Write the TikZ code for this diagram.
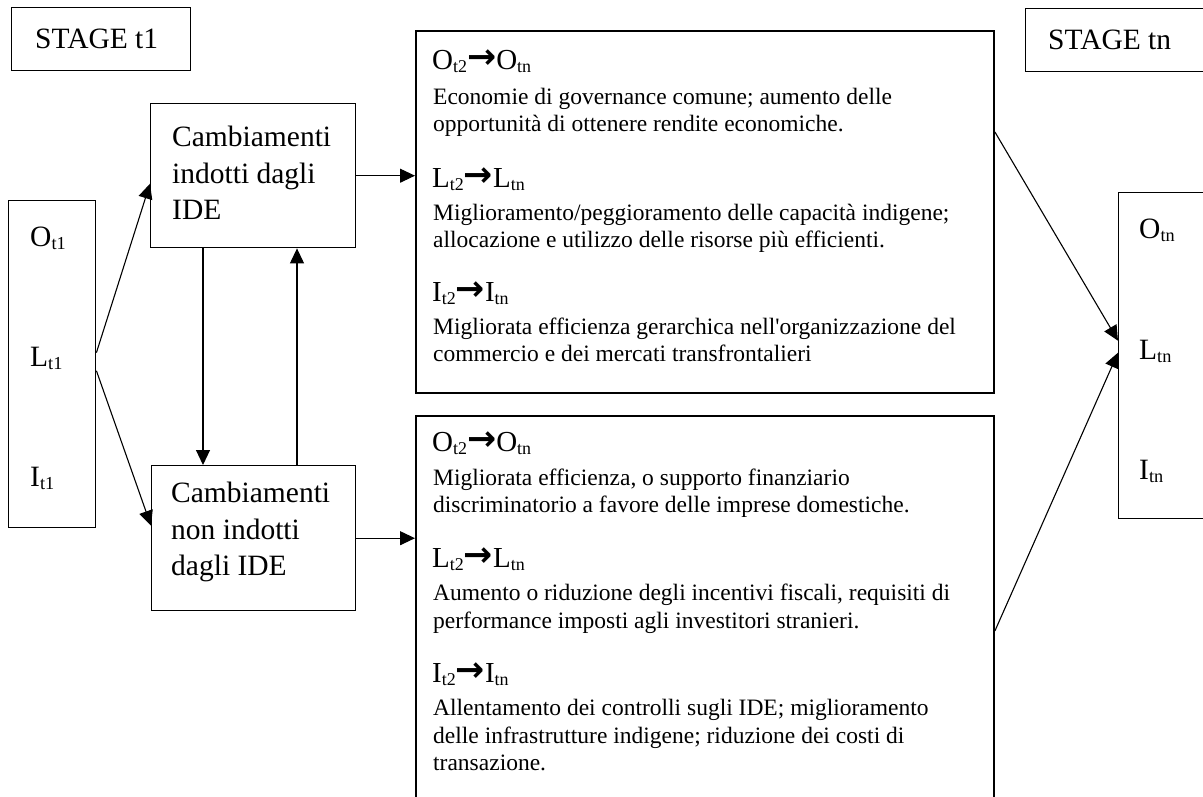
\documentclass[tikz,border=0pt]{standalone}
\usepackage{fontspec}
\setmainfont{Liberation Serif}
\newfontfamily\arrowfont{DejaVu Sans}
\usetikzlibrary{arrows.meta}
\newcommand\sbx[1]{\raisebox{-0.12em}{\scalebox{0.62}{#1}}}
\newcommand\hd[1]{#1\sbx{t2}\raisebox{0.02em}{\arrowfont\bfseries\scalebox{1.2}{→}}#1\sbx{tn}}
\newcommand\lb[2]{#1\sbx{#2}}
\begin{document}
\begin{tikzpicture}[x=1pt,y=-1pt,
  box/.style={draw, line width=1.4pt, inner sep=0pt, anchor=north west},
  bigbox/.style={draw, line width=1.9pt, inner sep=0pt, anchor=north west},
  txt/.style={anchor=base west, inner sep=0pt, font=\fontsize{23.5}{27}\selectfont},
  head/.style={anchor=base west, inner sep=0pt, font=\fontsize{29}{32}\selectfont},
  lab/.style={anchor=base west, inner sep=0pt, font=\fontsize{29.5}{36}\selectfont},
  arr/.style={-{Triangle[length=15pt,width=14pt]}, line width=1.1pt}]
\useasboundingbox (0,0) rectangle (1203,796);
\clip (0,0) rectangle (1203,796);
\fill[white] (0,0) rectangle (1203,796);
% boxes
\node[box, minimum width=179pt, minimum height=63pt] (st1) at (11,7) {};
\node[box, minimum width=87pt, minimum height=327pt] (lft) at (8,200) {};
\node[box, minimum width=205pt, minimum height=144pt] (ind) at (150,103) {};
\node[box, minimum width=204pt, minimum height=145pt] (nind) at (151,465) {};
\node[bigbox, minimum width=578pt, minimum height=362pt] (bA) at (415,30) {};
\node[bigbox, minimum width=578pt, minimum height=395pt] (bB) at (415,415) {};
\node[box, minimum width=190pt, minimum height=63pt] (stn) at (1025,8) {};
\node[box, minimum width=100pt, minimum height=326pt] (rgt) at (1118,192) {};
% labels
\node[lab] (st1t) at (35,48) {STAGE t1};
\node[lab] (stnt) at (1048,49) {STAGE tn};
\node[lab] (o1) at (30,246) {\lb{O}{t1}};
\node[lab] (l1) at (30,366) {\lb{L}{t1}};
\node[lab] (i1) at (30,486) {\lb{I}{t1}};
\node[lab] (on) at (1139,238) {\lb{O}{tn}};
\node[lab] (ln) at (1139,359) {\lb{L}{tn}};
\node[lab] (in) at (1139,479) {\lb{I}{tn}};
\node[lab] (c1) at (172,146) {Cambiamenti};
\node[lab] (c2) at (172,183) {indotti dagli};
\node[lab] (c3) at (172,219) {IDE};
\node[lab] (n1) at (171,502) {Cambiamenti};
\node[lab] (n2) at (171,539) {non indotti};
\node[lab] (n3) at (171,575) {dagli IDE};
% box A text
\node[head] (a1) at (432,69) {\hd{O}};
\node[txt] (a2) at (433,104) {Economie di governance comune; aumento delle};
\node[txt] (a3) at (433,131) {opportunità di ottenere rendite economiche.};
\node[head] (a4) at (432,187) {\hd{L}};
\node[txt] (a5) at (433,220) {Miglioramento/peggioramento delle capacità indigene;};
\node[txt] (a6) at (433,247) {allocazione e utilizzo delle risorse più efficienti.};
\node[head] (a7) at (432,301) {\hd{I}};
\node[txt] (a8) at (433,334) {Migliorata efficienza gerarchica nell\textquotesingle organizzazione del};
\node[txt] (a9) at (433,361) {commercio e dei mercati transfrontalieri};
% box B text
\node[head] (b1) at (432,451) {\hd{O}};
\node[txt] (b2) at (433,485) {Migliorata efficienza, o supporto finanziario};
\node[txt] (b3) at (433,512) {discriminatorio a favore delle imprese domestiche.};
\node[head] (b4) at (432,567) {\hd{L}};
\node[txt] (b5) at (433,600) {Aumento o riduzione degli incentivi fiscali, requisiti di};
\node[txt] (b6) at (433,628) {performance imposti agli investitori stranieri.};
\node[head] (b7) at (432,682) {\hd{I}};
\node[txt] (b8) at (433,715) {Allentamento dei controlli sugli IDE; miglioramento};
\node[txt] (b9) at (433,743) {delle infrastrutture indigene; riduzione dei costi di};
\node[txt] (b10) at (433,770) {transazione.};
% connectors
\draw[arr] ([yshift=11.5pt]lft.east) -- ([yshift=-8pt]ind.west);
\draw[arr] ([yshift=-6.5pt]lft.east) -- ([yshift=12.5pt]nind.west);
\draw[arr] ([xshift=53pt]ind.south west) -- ([xshift=52pt]nind.north west);
\draw[arr] ([xshift=146pt]nind.north west) -- ([xshift=147pt]ind.south west);
\draw[arr] (ind.east) -- (bA.west |- ind.east);
\draw[arr] (nind.east) -- (bB.west |- nind.east);
\draw[arr] ([yshift=80pt]bA.east) -- ([yshift=15pt]rgt.west);
\draw[arr] ([yshift=-17.5pt]bB.east) -- ([yshift=3pt]rgt.west);
\end{tikzpicture}
\end{document}
